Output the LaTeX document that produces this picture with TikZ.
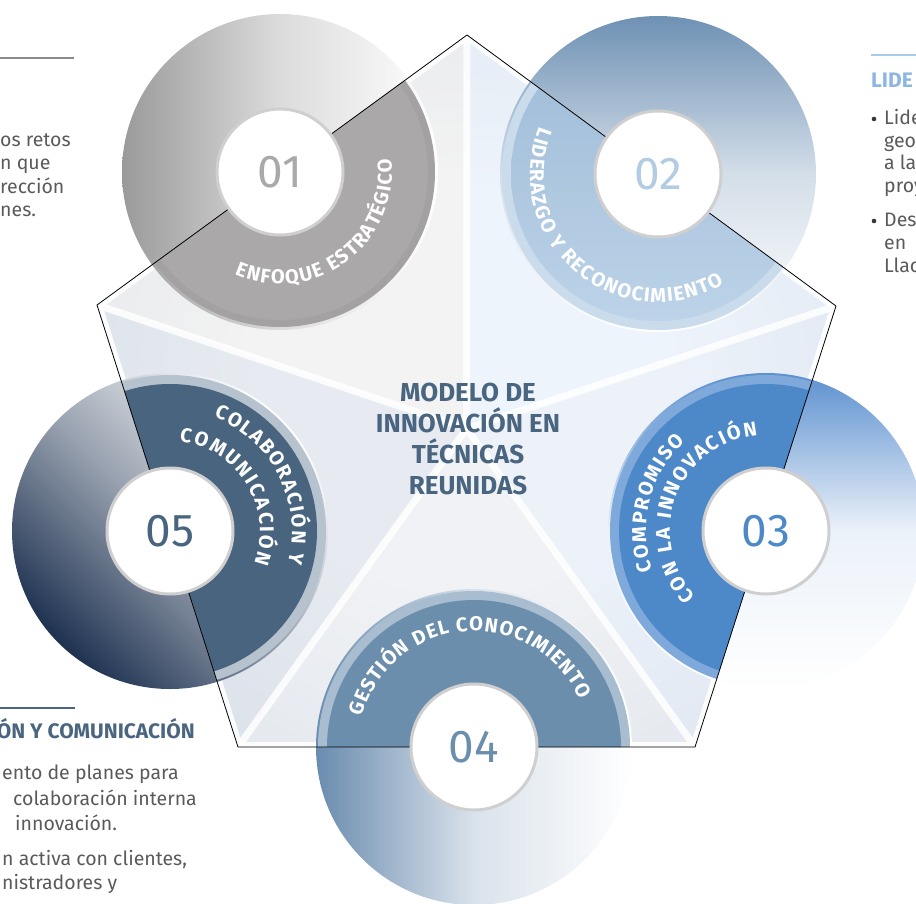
\documentclass[tikz,border=0pt]{standalone}
\usepackage{fontspec}
\setmainfont{Fira Sans}
\usetikzlibrary{decorations.text}
\definecolor{cA}{HTML}{ABA8AA}
\definecolor{cAg}{HTML}{9A9A9A}
\definecolor{cArim}{HTML}{A3A1A2}
\definecolor{cB}{HTML}{B3CCE3}
\definecolor{cBtop}{HTML}{9DBAD6}
\definecolor{cBbot}{HTML}{BCD3E8}
\definecolor{cBg}{HTML}{6E91B4}
\definecolor{cBrim}{HTML}{CADBEB}
\definecolor{cC}{HTML}{4D89C8}
\definecolor{cCg}{HTML}{5C90CF}
\definecolor{cCrim}{HTML}{7FA9DA}
\definecolor{cD}{HTML}{6B8EAD}
\definecolor{cDg}{HTML}{6A8CAF}
\definecolor{cDrim}{HTML}{A9BDD1}
\definecolor{cE}{HTML}{48647E}
\definecolor{cEg}{HTML}{1E3251}
\definecolor{cErim}{HTML}{B7C2CF}
\definecolor{titlec}{HTML}{4A6580}
\definecolor{bodyc}{HTML}{5A5A5A}
\definecolor{ringc}{HTML}{CFCFCF}
\definecolor{pentedge}{HTML}{DFE5EC}
\definecolor{lidc}{HTML}{8DB6E2}
\definecolor{lidline}{HTML}{A9CBEA}
\definecolor{hdrgray}{HTML}{8A8A8A}
\definecolor{secA}{HTML}{DADADA}
\definecolor{secB}{HTML}{D0E0F4}
\definecolor{secC}{HTML}{CCDBF0}
\definecolor{secD}{HTML}{D6DBE4}
\definecolor{secE}{HTML}{C4CEDC}
\pgfdeclareradialshading{pentshade}{\pgfpoint{0bp}{0bp}}{color(0bp)=(white); color(14bp)=(white); color(42bp)=(pentedge); color(50bp)=(pentedge)}
\newcommand\lblfont{\bfseries\fontsize{20}{20}\selectfont}
\tikzset{
  numcirc/.style={circle, fill=white, draw=ringc, line width=3pt, minimum size=126pt, inner sep=0pt, font=\fontsize{46}{46}\selectfont},
  body/.style={font=\fontsize{19.5}{23.3}\selectfont, text=bodyc, inner sep=0pt, anchor=base west},
  hdr/.style={font=\bfseries\fontsize{21}{21}\selectfont, inner sep=0pt},
  bullet/.style={bodyc!60!black},
  spoke/.style={white, line width=7pt, opacity=0.85},
  outline/.style={black, line width=0.8pt, line join=miter}
}
\begin{document}
\begin{tikzpicture}[x=1pt,y=1pt]
\useasboundingbox (0,0) rectangle (916,-903);
\coordinate (T) at (467,-35);
\coordinate (UR) at (836,-306);
\coordinate (BR) at (695,-747);
\coordinate (BL) at (238,-747);
\coordinate (UL) at (97,-305);
\coordinate (O) at (466.5,-428.6);
\coordinate (C1) at (280,-172);
\coordinate (C2) at (658,-174);
\coordinate (C3) at (766,-531);
\coordinate (C4) at (474,-747);
\coordinate (C5) at (170,-531);
% pentagon body
\shade[shading=pentshade] (T) -- (UR) -- (BR) -- (BL) -- (UL) -- cycle;
\fill[secA, opacity=0.3] (O) -- (T) -- (UL) -- cycle;
\fill[secB, opacity=0.35] (O) -- (T) -- (UR) -- cycle;
\fill[secC, opacity=0.35] (O) -- (UR) -- (BR) -- cycle;
\fill[secD, opacity=0.35] (O) -- (BR) -- (BL) -- cycle;
\fill[secE, opacity=0.4] (O) -- (BL) -- (UL) -- cycle;
\foreach \v in {T,UR,BR,BL,UL} \draw[spoke] (O) -- (\v);
\begin{scope}
  \clip (T) -- (UR) -- (BR) -- (BL) -- (UL) -- cycle;
  \draw[white, line width=10pt, opacity=0.9] (T) -- (UR) -- (BR) -- (BL) -- (UL) -- cycle;
\end{scope}
% outer gradient discs
\shade[left color=cAg, right color=white, middle color=white!65!cAg] (C1) circle (158);
\shade[top color=cBg, bottom color=white, middle color=white!70!cBg] (C2) circle (158);
\shade[top color=cCg, bottom color=white, middle color=white!88!cCg] (C3) circle (158);
\shade[left color=cDg, right color=white, middle color=white!75!cDg] (C4) circle (158);
\shade[top color=cEg, bottom color=white, middle color=white!55!cEg, shading angle=135] (C5) circle (158);
% coloured halves inside the pentagon
\begin{scope}
  \clip (T) -- (UR) -- (BR) -- (BL) -- (UL) -- cycle;
  \fill[cArim] (C1) circle (155);
  \fill[cA] (C1) circle (148);
  \fill[cBrim] (C2) circle (156);
  \shade[top color=cBtop, bottom color=cBbot] (C2) circle (147);
  \fill[cCrim] (C3) circle (156);
  \fill[cC] (C3) circle (147);
  \fill[cDrim] (C4) circle (156);
  \fill[cD] (C4) circle (147);
  \fill[cErim] (C5) circle (156);
  \fill[cE] (C5) circle (147);
\end{scope}
\draw[outline] (T) -- (UR) -- (BR) -- (BL) -- (UL) -- cycle;
% curved labels
\path[shift={(C1)}, decorate, decoration={text along path, text align={fit to path}, text color=white, text={|\lblfont|ENFOQUE ESTRATÉGICO}}] (-114:112) arc[start angle=-114, end angle=7, radius=112];
\path[shift={(C2)}, decorate, decoration={text along path, text align={fit to path}, text color=white, text={|\lblfont|LIDERAZGO Y RECONOCIMIENTO}}] (158:128) arc[start angle=158, end angle=301, radius=128];
\path[shift={(C3)}, decorate, decoration={text along path, text align={fit to path}, text color=white, text={|\lblfont|COMPROMISO}}] (199:120) arc[start angle=199, end angle=132, radius=120];
\path[shift={(C3)}, decorate, decoration={text along path, text align={fit to path}, text color=white, text={|\lblfont|CON LA INNOVACIÓN}}] (223:96) arc[start angle=223, end angle=95, radius=96];
\path[shift={(C4)}, decorate, decoration={text along path, text align={fit to path}, text color=white, text={|\lblfont|GESTIÓN DEL CONOCIMIENTO}}] (165:116) arc[start angle=165, end angle=24, radius=116];
\path[shift={(C5)}, decorate, decoration={text along path, text align={fit to path}, text color=white, text={|\lblfont|COLABORACIÓN Y}}] (69:122) arc[start angle=69, end angle=-15, radius=122];
\path[shift={(C5)}, decorate, decoration={text along path, text align={fit to path}, text color=white, text={|\lblfont|COMUNICACIÓN}}] (84:90) arc[start angle=84, end angle=-21, radius=90];
% number circles
\node[numcirc, text=cA] (n1) at (C1) {01};
\node[numcirc, text=cB] (n2) at (C2) {02};
\node[numcirc, text=cC] (n3) at (C3) {03};
\node[numcirc, text=cD] (n4) at (C4) {04};
\node[numcirc, text=cE] (n5) at (C5) {05};
% title
\node[font=\bfseries\fontsize{26}{31.3}\selectfont, text=titlec, align=center] (title) at (468,-439) {MODELO DE\\INNOVACIÓN EN\\TÉCNICAS\\REUNIDAS};
% side texts: top left
\draw[hdrgray, line width=2pt] (0,-58) -- (74,-58);
\node[body] (lt1) at (0,-146) {os retos};
\node[body] (lt2) at (0,-169) {n que};
\node[body] (lt3) at (0,-193) {rección};
\node[body] (lt4) at (0,-216) {nes.};
% top right
\begin{scope}
  \clip (0,0) rectangle (916,-903);
  \draw[lidline, line width=2.5pt] (871,-55) -- (920,-55);
  \node[hdr, text=lidc, anchor=base west] (lid) at (871,-87) {LIDE};
  \fill[bullet] (874,-119) circle (2.3);
  \node[body] (rt1) at (884,-124) {Lide};
  \node[body] (rt2) at (884,-147) {geo};
  \node[body] (rt3) at (884,-169) {a la};
  \node[body] (rt4) at (884,-192) {proy};
  \fill[bullet] (874,-221) circle (2.3);
  \node[body] (rt5) at (884,-226) {Des};
  \node[body] (rt6) at (884,-249) {en};
  \node[body] (rt7) at (884,-272) {Llac};
\end{scope}
% bottom left
\draw[titlec, line width=2.5pt] (0,-708) -- (75,-708);
\node[hdr, text=titlec, anchor=base east] (bh) at (195,-738) {ÓN Y COMUNICACIÓN};
\node[body] (bl1) at (2,-779) {ento de planes para};
\node[body] (bl2) at (13,-805) {colaboración interna};
\node[body] (bl3) at (15,-830) {innovación.};
\node[body] (bl4) at (2,-865) {n activa con clientes,};
\node[body] (bl5) at (2,-889) {nistradores y};
\end{tikzpicture}
\end{document}
